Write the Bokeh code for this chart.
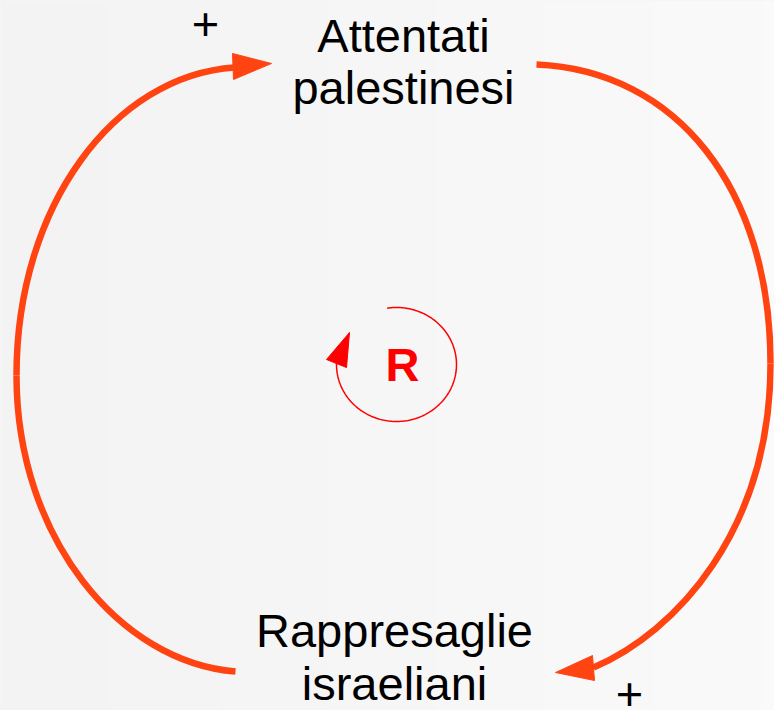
import numpy as np
from bokeh.plotting import figure
from bokeh.models import Range1d
from bokeh.core.properties import value
from bokeh.embed import file_html
from bokeh.resources import INLINE

# ---- diagram content ----
node_lines = ["Attentati", "palestinesi", "Rappresaglie", "israeliani"]
node_x = [403, 403, 394, 394]
node_y = [35, 87, 630, 683]          # vertical centres of the text lines

polarity = ["+", "+"]
polarity_x = [205, 629]
polarity_y = [23, 693]

loop_label = ["R"]
loop_label_x = [402]
loop_label_y = [364]

# causal links drawn as cubic bezier segments (picture pixel coordinates)
arc_x0 = [234, 16, 536, 770]
arc_y0 = [67, 375, 64, 363]
arc_x1 = [16, 235, 770, 593]
arc_y1 = [375, 671, 363, 667]
arc_cx0 = [114, 16, 676, 770]
arc_cy0 = [75, 538, 70, 530]
arc_cx1 = [16, 120, 770, 675]
arc_cy1 = [205, 662, 188, 632]

head_xs = [[271, 232, 233], [555, 592, 594], [349, 326, 346]]
head_ys = [[63, 53, 79], [672, 655, 680], [332, 359, 367]]
head_colors = ["#ff4412", "#ff4412", "#ff0000"]

# small loop-indicator ellipse
loop_cx, loop_cy, loop_rx, loop_ry = 396, 364, 60, 57
loop_start_deg, loop_end_deg = -99, 182

ORANGE = "#ff4412"
BG = "#f6f6f6"
BG_LEFT, BG_RIGHT = 243, 250   # grey levels of the background gradient
W, H = 774, 710

p = figure(width=W, height=H, output_backend="svg", toolbar_location=None,
           x_range=Range1d(0, W), y_range=Range1d(H, 0),
           x_axis_type=None, y_axis_type=None, min_border=0,
           background_fill_color=BG, border_fill_color=BG)
p.grid.visible = False
p.outline_line_color = None

# subtle left-to-right background gradient
g = np.linspace(BG_LEFT, BG_RIGHT, 64).astype(np.uint32)
img = np.empty((1, g.size), dtype=np.uint32)
view = img.view(dtype=np.uint8).reshape((1, g.size, 4))
view[0, :, 0] = g
view[0, :, 1] = g
view[0, :, 2] = g
view[0, :, 3] = 255
p.image_rgba(image=[img], x=0, y=0, dw=W, dh=H)

p.bezier(x0=arc_x0, y0=arc_y0, x1=arc_x1, y1=arc_y1,
         cx0=arc_cx0, cy0=arc_cy0, cx1=arc_cx1, cy1=arc_cy1,
         line_color=ORANGE, line_width=6.5)

th = np.radians(np.linspace(loop_start_deg, loop_end_deg, 200))
p.line(loop_cx + loop_rx * np.cos(th), loop_cy + loop_ry * np.sin(th),
       line_color="#ff0000", line_width=1.5)

p.patches(xs=head_xs, ys=head_ys, fill_color=head_colors, line_color=head_colors, line_width=1)

p.text(x=node_x, y=node_y, text=node_lines, text_font=value("Liberation Sans"),
       text_font_size="47px", text_align="center", text_baseline="middle",
       text_color="#000000")
p.text(x=polarity_x, y=polarity_y, text=polarity, text_font=value("Liberation Sans"),
       text_font_size="47px", text_align="center", text_baseline="middle",
       text_color="#000000")
p.text(x=loop_label_x, y=loop_label_y, text=loop_label, text_font=value("Liberation Sans"),
       text_font_size="47px", text_font_style="bold", text_align="center",
       text_baseline="middle", text_color="#ff0000")

html = file_html(p, INLINE)
html = html.replace("</head>", "<style>html,body{margin:0;padding:0;background:%s;overflow:hidden}</style></head>" % BG, 1)
open("out.html", "w").write(html)
